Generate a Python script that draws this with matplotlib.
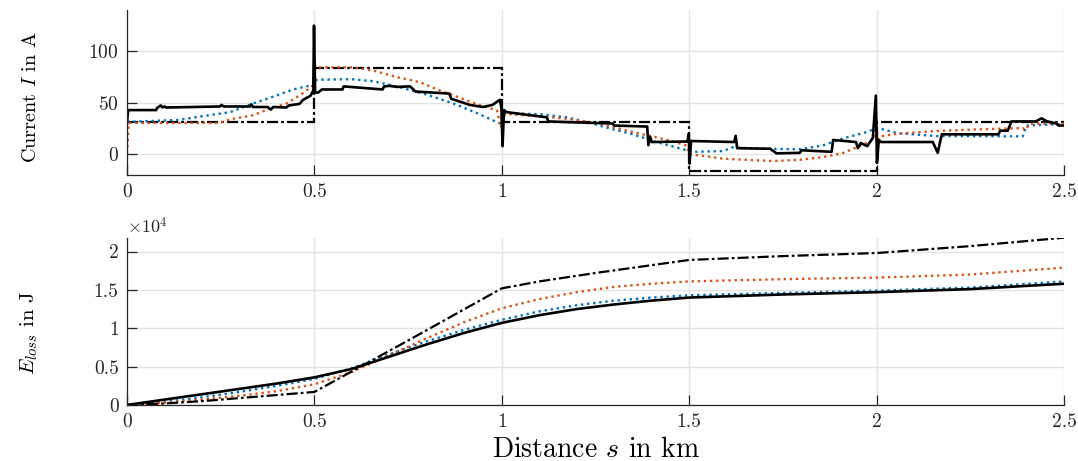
import numpy as np
import matplotlib
matplotlib.use("Agg")
import matplotlib.pyplot as plt
from matplotlib.ticker import FuncFormatter

plt.rcParams["font.family"] = "serif"
plt.rcParams["font.serif"] = ["cmr10"]
plt.rcParams["mathtext.fontset"] = "cm"
plt.rcParams["axes.formatter.use_mathtext"] = True

BLUE = "#0072BD"
ORANGE = "#D95319"

# ── top: current over distance ──
s_edges = [0, 0.5, 1.0, 1.5, 2.0, 2.5]
I_ref = [31, 84, 31, -16, 31]

s_meas = [0.000, 0.003, 0.078, 0.080, 0.090, 0.095, 0.100, 0.105, 0.248, 0.252,
          0.258, 0.328, 0.332, 0.336, 0.375, 0.384, 0.390, 0.425, 0.432, 0.460,
          0.470, 0.490, 0.497, 0.499, 0.502, 0.510, 0.520, 0.575, 0.578, 0.682,
          0.686, 0.700, 0.720, 0.755, 0.770, 0.860, 0.865, 0.915, 0.950, 0.975,
          0.995, 0.999, 1.002, 1.006, 1.013, 1.066, 1.120, 1.124, 1.200, 1.295,
          1.300, 1.388, 1.391, 1.396, 1.400, 1.495, 1.499, 1.501, 1.505, 1.620,
          1.624, 1.628, 1.716, 1.733, 1.795, 1.800, 1.880, 1.884, 1.945, 1.950,
          1.958, 1.975, 1.990, 1.998, 2.001, 2.006, 2.012, 2.150, 2.163, 2.174,
          2.325, 2.330, 2.350, 2.360, 2.425, 2.440, 2.455, 2.480, 2.485, 2.500]
I_meas = [30, 43, 43, 45, 47.5, 45.5, 46.5, 45.5, 46.5, 48,
          46.5, 46.5, 48.5, 46, 46, 43.5, 46, 45.5, 47.5, 49,
          53, 57, 62, 125, 60, 60, 63, 63, 66, 63,
          66, 66.5, 65.5, 66, 61, 59, 54, 48, 46, 48,
          53, 45, 8, 43, 41, 38.5, 36, 32, 31, 30,
          28, 27, 9, 17, 12, 12.5, 20, -9, 13, 12,
          18, 6, 5.5, 1, 1.5, 4, 2.5, 14, 12, 6,
          11, 8, 16, 57, -8, 14, 12, 12, 1.5, 19.5,
          19.5, 23, 23, 32, 32, 35, 32, 30, 28, 28]

s_blue = [0.0, 0.14, 0.2, 0.275, 0.337, 0.39, 0.443, 0.497, 0.502, 0.515,
          0.6, 0.656, 0.72, 0.8, 0.87, 0.934, 0.995, 1.003, 1.02, 1.1,
          1.173, 1.227, 1.29, 1.35, 1.413, 1.493, 1.511, 1.59, 1.617, 1.68,
          1.796, 1.857, 1.91, 1.974, 1.996, 2.005, 2.054, 2.16, 2.39, 2.40, 2.5]
I_blue = [31.5, 33.5, 37, 41, 49.5, 56, 63, 67.5, 72, 72.5,
          73, 71, 66, 58, 49.5, 40, 30, 39, 40, 39,
          36, 31.5, 25, 19.5, 12, 4, 2.5, 3.2, 7, 5.5,
          5, 8.7, 15.5, 21.7, 25, 25.5, 20.7, 17.8, 17.5, 28, 29.5]

s_orange = [0.0, 0.005, 0.248, 0.275, 0.337, 0.382, 0.426, 0.47, 0.496, 0.5,
            0.505, 0.603, 0.656, 0.72, 0.782, 0.835, 0.888, 0.942, 0.987, 0.998,
            1.004, 1.02, 1.1, 1.173, 1.262, 1.35, 1.44, 1.493, 1.5, 1.529,
            1.59, 1.724, 1.796, 1.857, 1.91, 1.974, 1.996, 1.999, 2.003, 2.01,
            2.054, 2.16, 2.249, 2.39, 2.395, 2.41, 2.5]
I_orange = [1, 30.5, 30.5, 34, 38, 44.6, 49.4, 59.5, 67, 88,
            84.5, 84.5, 81.5, 75, 70, 62, 55, 47.6, 42.7, 26,
            38, 39, 37, 34.6, 29.8, 21.7, 14.2, 8.7, 0, -1,
            -4.2, -6.5, -5.2, -2.6, 1.3, 11, 16, 34, 15, 17.5,
            20, 22.7, 24, 25.6, 23.5, 29.8, 30]

# ── bottom: energy loss (J) ──
s_E = [0, 0.1, 0.2, 0.3, 0.4, 0.5, 0.6, 0.7, 0.8, 0.9, 1.0,
       1.1, 1.2, 1.3, 1.4, 1.5, 1.75, 2.0, 2.25, 2.5]
E_meas = [0, 700, 1400, 2100, 2800, 3600, 4700, 6300, 7900, 9400, 10700,
          11700, 12500, 13100, 13600, 14000, 14400, 14700, 15100, 15800]
E_blue = [0, 400, 1000, 1700, 2500, 3400, 4800, 6600, 8300, 9800, 11100,
          12200, 13000, 13600, 14000, 14300, 14600, 14900, 15300, 16100]
E_orange = [0, 300, 700, 1200, 1800, 2700, 4300, 6500, 8700, 10800, 12600,
            13800, 14700, 15400, 15800, 16100, 16400, 16600, 17000, 17900]
s_E_ref = [0, 0.1, 0.2, 0.3, 0.4, 0.5, 0.75, 1.0, 1.1, 1.25, 1.5, 1.75, 2.0, 2.25, 2.5]
E_ref = [0, 200, 500, 900, 1300, 1700, 8400, 15200, 16100, 17200, 18900, 19400, 19800, 20700, 21800]

DOT = (0, (1, 1.6))
DASHDOT = (0, (5, 1.4, 1.2, 1.4))

fig = plt.figure(figsize=(10.78, 4.61), dpi=100)
ax1 = fig.add_axes([0.1178, 0.6204, 0.8692, 0.3576])
ax2 = fig.add_axes([0.1178, 0.1215, 0.8692, 0.3629])

ax1.plot(s_blue, I_blue, color=BLUE, lw=1.7, ls=DOT)
ax1.plot(s_orange, I_orange, color=ORANGE, lw=1.7, ls=DOT)
ax1.stairs(I_ref, s_edges, color="black", lw=1.6, ls=DASHDOT, baseline=None)
ax1.plot(s_meas, I_meas, color="black", lw=1.9)
ax1.set_ylim(-20, 140)
ax1.set_yticks([0, 50, 100])
ax1.set_ylabel("Current $I$ in A", fontsize=14.5)
ax1.yaxis.set_label_coords(-0.093, 0.47)

ax2.plot(s_E, E_blue, color=BLUE, lw=1.7, ls=DOT)
ax2.plot(s_E, E_orange, color=ORANGE, lw=1.7, ls=DOT)
ax2.plot(s_E_ref, E_ref, color="black", lw=1.6, ls=DASHDOT)
ax2.plot(s_E, E_meas, color="black", lw=1.9)
ax2.set_ylim(0, 21800)
ax2.set_yticks([0, 5000, 10000, 15000, 20000])
ax2.yaxis.set_major_formatter(FuncFormatter(lambda v, p: f"{v / 1e4:g}"))
ax2.text(0.0, 1.01, r"$\times10^{4}$", transform=ax2.transAxes,
         fontsize=13, color="#262626", va="bottom", ha="left")
ax2.set_ylabel("$E_{loss}$ in J", fontsize=15)
ax2.yaxis.set_label_coords(-0.093, 0.43)
ax2.set_xlabel("Distance $s$ in km", fontsize=20, labelpad=4)

for ax in (ax1, ax2):
    ax.set_xlim(0, 2.5)
    ax.set_xticks([0, 0.5, 1, 1.5, 2, 2.5])
    ax.xaxis.set_major_formatter(FuncFormatter(lambda v, p: f"{v:g}"))
    ax.grid(True, color="#e3e3e3", lw=1.0)
    ax.set_axisbelow(True)
    ax.spines["top"].set_visible(False)
    ax.spines["right"].set_visible(False)
    for sp in ("left", "bottom"):
        ax.spines[sp].set_color("#262626")
        ax.spines[sp].set_linewidth(0.9)
    ax.tick_params(direction="in", length=7, width=0.9, colors="#262626",
                   labelsize=14, pad=6)

fig.savefig("out.png", dpi=100)
